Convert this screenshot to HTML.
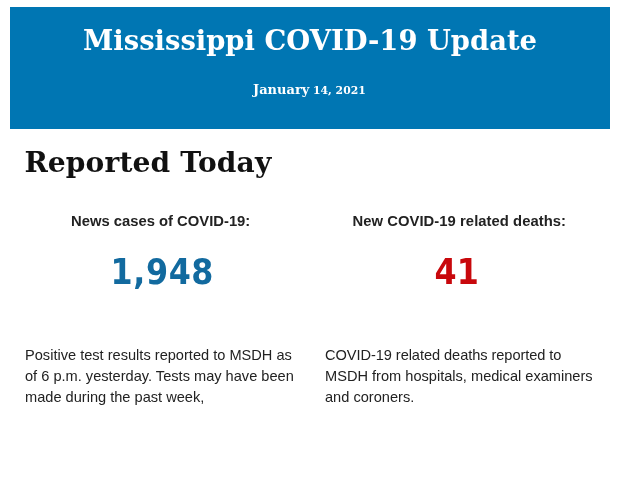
<!DOCTYPE html>
<html lang="en">
<head>
<meta charset="utf-8">
<title>Mississippi COVID-19 Update</title>
<style>
html,body{margin:0;padding:0;background:#fff;}
body{width:620px;height:483px;position:relative;overflow:hidden;font-family:"Liberation Sans",Arial,sans-serif;color:#222;}
.banner{position:absolute;left:10px;top:7px;width:600px;height:122px;background:#0076b3;}
.abs{position:absolute;white-space:nowrap;line-height:1;margin:0;}
.serif{font-family:"DejaVu Serif","Liberation Serif",Georgia,serif;font-weight:bold;}
h1.title{color:#fff;font-size:27.4px;left:83px;top:26.7px;}
.date{color:#fff;font-size:13px;left:253px;top:82.9px;}
.date span{font-size:10.8px;}
h2.rep{color:#111;font-size:28.1px;left:24.4px;top:148.6px;letter-spacing:0.12px;}
.lbl{font-weight:bold;font-size:14.8px;color:#222;}
.num{font-family:"DejaVu Sans Condensed","DejaVu Sans","Liberation Sans",sans-serif;font-weight:bold;font-size:35.3px;}
.p{position:absolute;margin:0;font-size:14.6px;line-height:21.14px;color:#222;white-space:nowrap;}
</style>
</head>
<body>
<div class="banner"></div>
<h1 class="abs serif title" id="title">Mississippi COVID-19 Update</h1>
<div class="abs serif date" id="date">January<span> 14, 2021</span></div>
<h2 class="abs serif rep" id="rep">Reported Today</h2>

<div class="abs lbl" id="l1" style="left:71px;top:213.6px;">News cases of COVID-19:</div>
<div class="abs num" id="n1" style="left:110.6px;top:253.6px;letter-spacing:0.6px;color:#126a9f;">1,948</div>
<div class="abs lbl" id="l2" style="left:352.5px;top:213.6px;letter-spacing:0.05px;">New COVID-19 related deaths:</div>
<div class="abs num" id="n2" style="left:434.6px;top:253.6px;color:#c8080c;">41</div>

<p class="p" id="p1" style="left:25px;top:344.8px;">Positive test results reported to MSDH as<br>of 6 p.m. yesterday. Tests may have been<br>made during the past week,</p>
<p class="p" id="p2" style="left:325px;top:344.8px;"><span style="letter-spacing:-0.06px">COVID-19 related deaths reported to</span><br>MSDH from hospitals, medical examiners<br>and coroners.</p>
</body>
</html>
